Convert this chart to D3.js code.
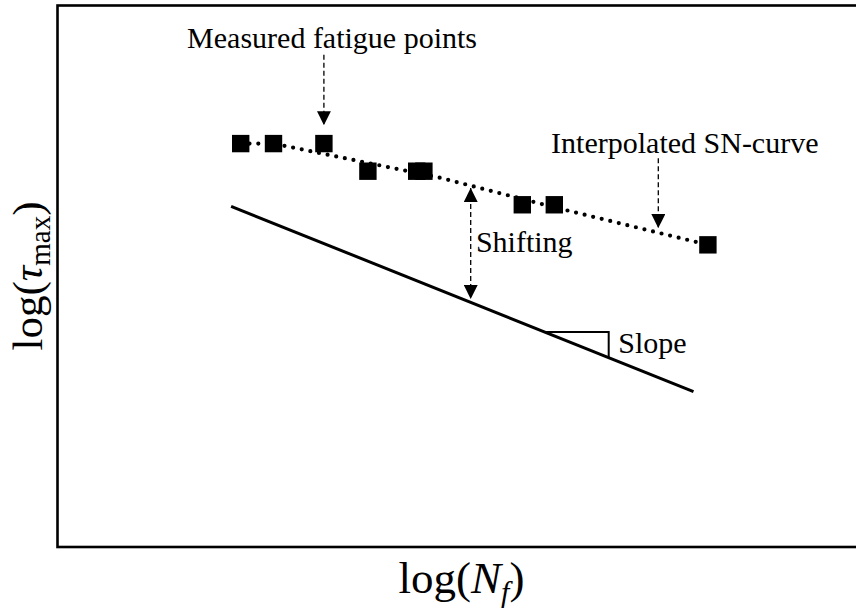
<!DOCTYPE html>
<html>
<head>
<meta charset="utf-8">
<script src="https://cdn.jsdelivr.net/npm/d3@7"></script>
<style>
  body { margin: 0; background: #fff; }
  text { font-family: "Liberation Serif", "Times New Roman", serif; fill: #000; }
</style>
</head>
<body>
<svg id="drawing_region"></svg>
<script>
// measured fatigue points (log N, log tau), arbitrary log units
const measured_x = [2.29, 2.70, 3.33, 3.88, 4.49, 4.58, 5.81, 6.21, 8.13];
const measured_y = [7.45, 7.45, 7.45, 6.94, 6.94, 6.94, 6.32, 6.32, 5.58];

// interpolated SN-curve through the points
const sn_curve_x = [2.29, 2.70, 4.78, 6.22, 8.13];
const sn_curve_y = [7.45, 7.45, 6.82, 6.27, 5.58];

// shifted (design) curve
const design_x = [2.17, 7.95];
const design_y = [6.29, 2.87];

// slope triangle: from x0 to x1 along the design curve
const slope_x = [6.09, 6.89];

// annotation arrows: x, y from, y to
const arrow_x    = [3.33, 7.51, 5.165];
const arrow_from = [9.09, 7.18, 6.63];
const arrow_to   = [7.79, 5.89, 4.58];
const arrow_both = [false, false, true];

// annotation labels
const label_text = ["Measured fatigue points", "Interpolated SN-curve", "Shifting", "Slope"];
const label_x = [1.62, 6.17, 5.23, 7.01];
const label_y = [9.21, 7.28, 5.45, 3.58];

class SNChart {

    constructor( config ) {
        this.config = config;
        this.init();
    }

    init() {
        let self = this;

        self.svg = d3.select( self.config.parent )
            .attr('width', self.config.width)
            .attr('height', self.config.height);

        self.chart = self.svg.append('g')
            .attr('transform', `translate(${self.config.margin.left}, ${self.config.margin.top})`);

        self.inner_width = self.config.width - self.config.margin.left - self.config.margin.right;
        self.inner_height = self.config.height - self.config.margin.top - self.config.margin.bottom;

        self.xscale = d3.scaleLinear()
            .domain([0, 10])
            .range([0, self.inner_width]);

        self.yscale = d3.scaleLinear()
            .domain([0, 10])
            .range([self.inner_height, 0]);

        // arrow head
        self.svg.append('defs').append('marker')
            .attr('id', 'head')
            .attr('viewBox', '0 0 14 14')
            .attr('refX', 14)
            .attr('refY', 7)
            .attr('markerWidth', 14)
            .attr('markerHeight', 14)
            .attr('markerUnits', 'userSpaceOnUse')
            .attr('orient', 'auto-start-reverse')
            .append('path')
            .attr('d', 'M0,0 L14,7 L0,14 Z')
            .attr('fill', '#000');
    }

    render() {
        let self = this;
        const x = self.xscale, y = self.yscale;

        // frame (right edge runs off the picture)
        self.chart.append('rect')
            .attr('x', 0)
            .attr('y', 0)
            .attr('width', self.inner_width + 4)
            .attr('height', self.inner_height)
            .attr('fill', 'none')
            .attr('stroke', '#000')
            .attr('stroke-width', 2.6);

        const line = d3.line()
            .x(i => x(i[0]))
            .y(i => y(i[1]));

        // interpolated SN-curve, dotted
        self.chart.append('path')
            .attr('d', line(d3.zip(sn_curve_x, sn_curve_y)))
            .attr('fill', 'none')
            .attr('stroke', '#000')
            .attr('stroke-width', 4.2)
            .attr('stroke-linecap', 'round')
            .attr('stroke-dasharray', '0 8.8');

        // shifted curve
        self.chart.append('path')
            .attr('d', line(d3.zip(design_x, design_y)))
            .attr('fill', 'none')
            .attr('stroke', '#000')
            .attr('stroke-width', 3);

        // slope triangle
        const design = d3.scaleLinear().domain(design_x).range(design_y);
        const y0 = design(slope_x[0]);
        self.chart.append('path')
            .attr('d', line([[slope_x[0], y0], [slope_x[1], y0], [slope_x[1], design(slope_x[1])]]))
            .attr('fill', 'none')
            .attr('stroke', '#000')
            .attr('stroke-width', 2);

        // measured points
        const s = 17.4;
        self.chart.selectAll('.pt')
            .data(d3.zip(measured_x, measured_y))
            .join('rect')
            .attr('class', 'pt')
            .attr('x', d => x(d[0]) - s / 2)
            .attr('y', d => y(d[1]) - s / 2)
            .attr('width', s)
            .attr('height', s)
            .attr('fill', '#000');

        // dashed arrows
        self.chart.selectAll('.arrow')
            .data(d3.range(arrow_x.length))
            .join('line')
            .attr('class', 'arrow')
            .attr('x1', i => x(arrow_x[i]))
            .attr('x2', i => x(arrow_x[i]))
            .attr('y1', i => y(arrow_from[i]))
            .attr('y2', i => y(arrow_to[i]))
            .attr('stroke', '#000')
            .attr('stroke-width', 1.3)
            .attr('stroke-dasharray', '5 3')
            .attr('marker-end', 'url(#head)')
            .attr('marker-start', i => arrow_both[i] ? 'url(#head)' : null);

        // labels
        self.chart.selectAll('.label')
            .data(d3.range(label_text.length))
            .join('text')
            .attr('class', 'label')
            .attr('x', i => x(label_x[i]))
            .attr('y', i => y(label_y[i]))
            .attr('font-size', 30)
            .text(i => label_text[i]);

        // axis titles
        const xt = self.svg.append('text')
            .attr('x', 461.5)
            .attr('y', 593)
            .attr('text-anchor', 'middle')
            .attr('font-size', 45);
        xt.append('tspan').text('log(');
        xt.append('tspan').attr('font-style', 'italic').text('N');
        xt.append('tspan').attr('font-style', 'italic').attr('font-size', 30).attr('dy', 9).text('f');
        xt.append('tspan').attr('dy', -9).text(')');

        const yt = self.svg.append('text')
            .attr('transform', 'translate(42, 276) rotate(-90)')
            .attr('text-anchor', 'middle')
            .attr('font-size', 43);
        yt.append('tspan').text('log(');
        yt.append('tspan').attr('font-style', 'italic').text('\u03C4');
        yt.append('tspan').attr('font-size', 29).attr('dy', 8).text('max');
        yt.append('tspan').attr('dy', -8).text(')');
    }
}

const chart = new SNChart({
    parent: '#drawing_region',
    width: 856,
    height: 609,
    margin: {top: 5.5, right: -1.5, bottom: 62, left: 57.5}
});
chart.render();
</script>
</body>
</html>
